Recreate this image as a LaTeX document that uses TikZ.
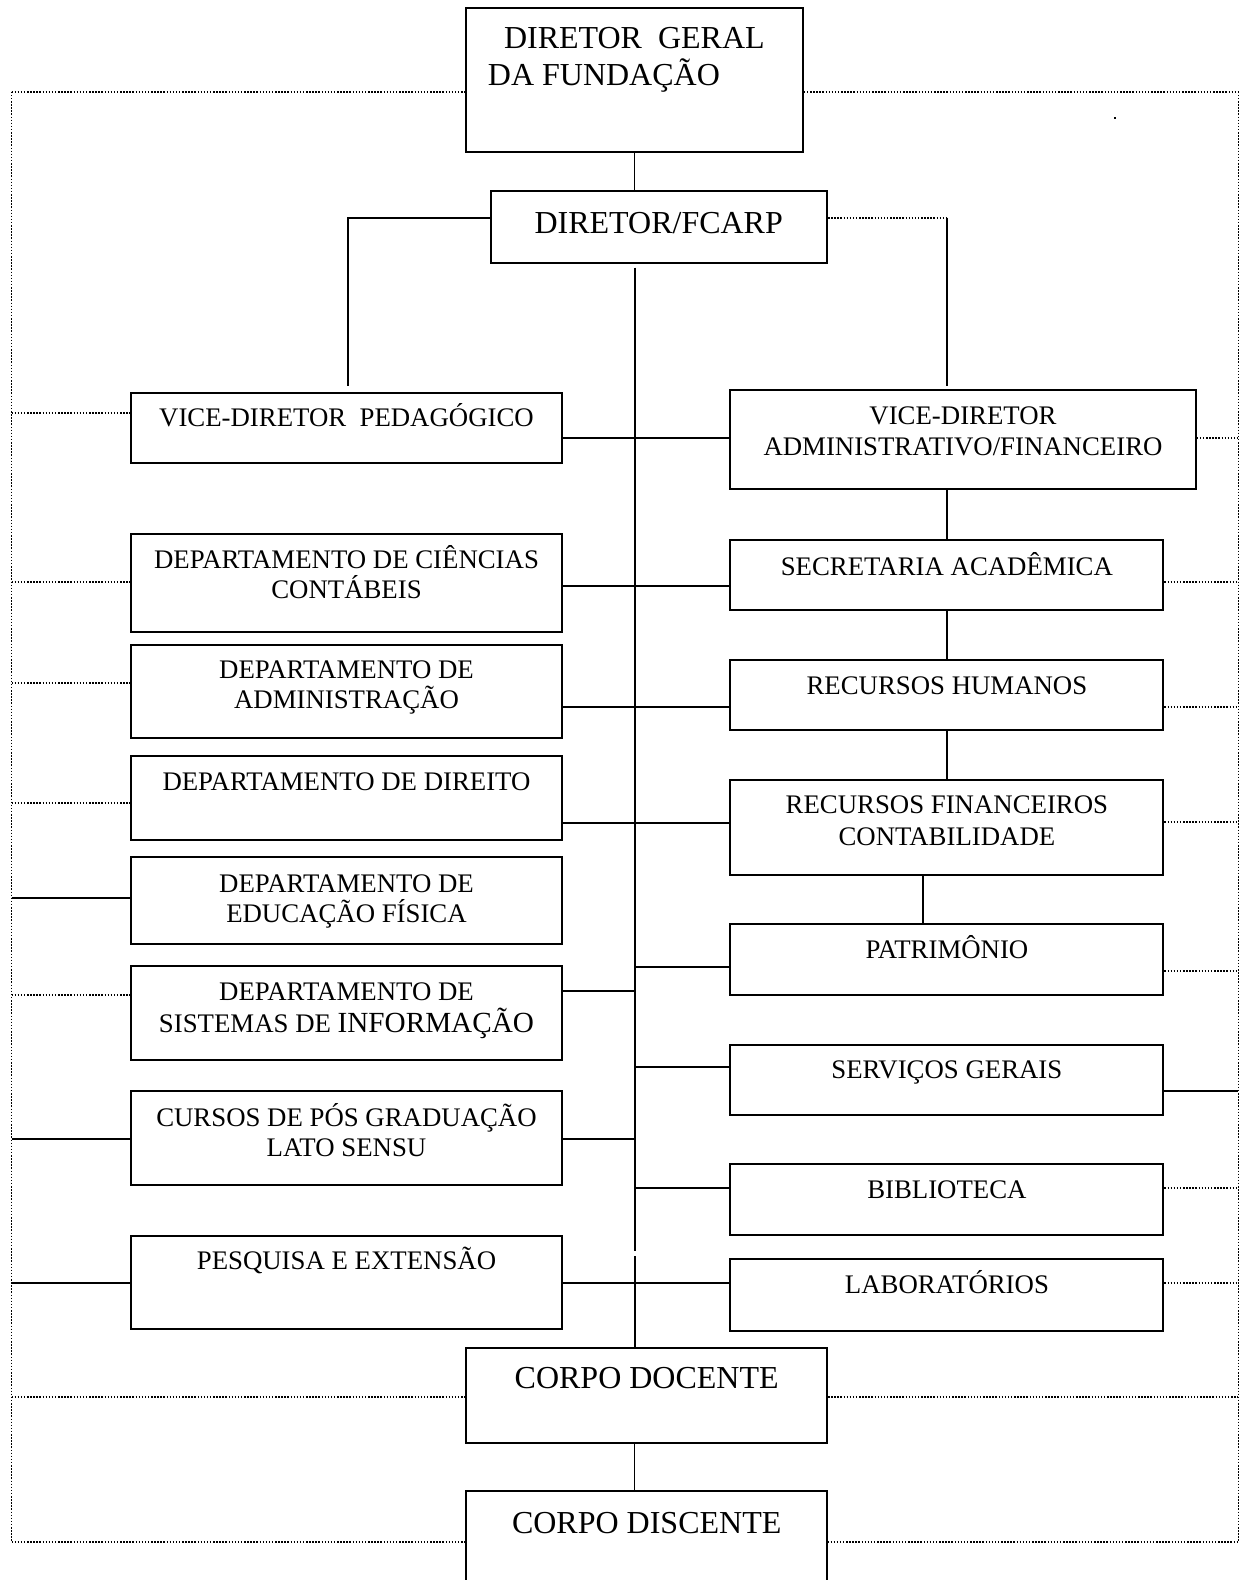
\documentclass[tikz,border=0pt]{standalone}
\usepackage{fontspec}
\setmainfont{Liberation Serif}
\usepackage{graphicx}
\usetikzlibrary{fit}
\begin{document}
\begin{tikzpicture}[x=0.5pt,y=-0.5pt,
  box/.style={draw, line width=1pt, fill=white, inner sep=0pt},
  conn/.style={line width=1pt},
  thinconn/.style={line width=0.6pt},
  dots/.style={line width=0.9pt, dash pattern=on 0.75pt off 0.8pt},
  big/.style={font=\fontsize{16}{19}\selectfont, inner sep=0pt, anchor=base},
  small/.style={font=\fontsize{13.4}{16}\selectfont, inner sep=0pt, anchor=base}]
\useasboundingbox (0,0) rectangle (1246,1580);

% boxes
\node[box, fit={(466.4,8.1) (802.8,152.1)}] (dg) {};
\node[box, fit={(490.5,190.5) (827,263)}] (dir) {};
\node[box, fit={(131,392.5) (562,463.4)}] (vdp) {};
\node[box, fit={(730.3,389.8) (1195.7,488.6)}] (vdaf) {};
\node[box, fit={(131,533.5) (562,631.6)}] (dcc) {};
\node[box, fit={(730.3,540) (1163.4,610.4)}] (sa) {};
\node[box, fit={(131,644.7) (562,738.4)}] (da) {};
\node[box, fit={(730.3,659.8) (1163.4,730.3)}] (rh) {};
\node[box, fit={(131,755.5) (562,840.1)}] (dd) {};
\node[box, fit={(730.3,779.7) (1163.4,875.3)}] (rf) {};
\node[box, fit={(131,857.2) (562,943.8)}] (def) {};
\node[box, fit={(730.3,923.7) (1163.4,995.2)}] (pat) {};
\node[box, fit={(131,966) (562,1059.7)}] (dsi) {};
\node[box, fit={(730.3,1044.6) (1163.4,1115.1)}] (sg) {};
\node[box, fit={(131,1090.9) (562,1184.6)}] (cpg) {};
\node[box, fit={(730.3,1164.4) (1163.4,1235)}] (bib) {};
\node[box, fit={(131,1236) (562,1328.6)}] (pe) {};
\node[box, fit={(730.3,1259.1) (1163.4,1330.6)}] (lab) {};
\node[box, fit={(466.4,1347.8) (827,1443.4)}] (cd) {};
\node[inner sep=0pt, fit={(466.4,1491.8) (827,1582)}] (cdis) {};
\draw[line width=1pt] (cdis.south west) -- (cdis.north west) -- (cdis.north east) -- (cdis.south east);

% texts
\node[big, anchor=base west] (t1a) at (503.6,48.3) {DIRETOR\ \ GERAL};
\node[big, anchor=base west] (t1b) at (487.5,85) {DA FUNDAÇÃO};
\node[big] (t2) at (658.7,233.3) {DIRETOR/FCARP};
\node[small] (t3) at (346.5,426.6) {VICE-DIRETOR\ \ PEDAGÓGICO};
\node[small] (t4a) at (963,424.6) {VICE-DIRETOR};
\node[small] (t4b) at (963,455.8) {ADMINISTRATIVO/FINANCEIRO};
\node[small] (t5a) at (346.5,568.6) {DEPARTAMENTO DE CIÊNCIAS};
\node[small] (t5b) at (346.5,598.9) {CONTÁBEIS};
\node[small] (t6) at (946.9,575.7) {SECRETARIA ACADÊMICA};
\node[small] (t7a) at (346.5,678.5) {DEPARTAMENTO DE};
\node[small] (t7b) at (346.5,708.7) {ADMINISTRAÇÃO};
\node[small] (t8) at (946.9,694.6) {RECURSOS HUMANOS};
\node[small] (t9) at (346.5,790.3) {DEPARTAMENTO DE DIREITO};
\node[small] (t10a) at (946.9,813.4) {RECURSOS FINANCEIROS};
\node[small] (t10b) at (946.9,845.6) {CONTABILIDADE};
\node[small] (t11a) at (346.5,892) {DEPARTAMENTO DE};
\node[small] (t11b) at (346.5,922.2) {EDUCAÇÃO FÍSICA};
\node[small] (t12) at (946.9,958.5) {PATRIMÔNIO};
\node[small] (t13a) at (346.5,1000.8) {DEPARTAMENTO DE};
\node[small] (t13b) at (346.5,1032) {SISTEMAS DE {\fontsize{14.6}{17}\selectfont INFORMAÇÃO}};
\node[small] (t14) at (946.9,1078.4) {SERVIÇOS GERAIS};
\node[small] (t15a) at (346.5,1126.7) {CURSOS DE PÓS GRADUAÇÃO};
\node[small] (t15b) at (346.5,1156.9) {LATO SENSU};
\node[small] (t16) at (946.9,1198.2) {BIBLIOTECA};
\node[small] (t17) at (346.5,1269.7) {PESQUISA E EXTENSÃO};
\node[small] (t18) at (946.9,1293.9) {LABORATÓRIOS};
\node[big] (t19) at (646.7,1388.6) {CORPO DOCENTE};
\node[big] (t20) at (646.7,1533.6) {CORPO DISCENTE};

% frame coordinates
\coordinate (fl) at (11.5,91.7);
\coordinate (fr) at (1238.4,91.7);
\coordinate (flb) at (11.5,1542.2);
\coordinate (frb) at (1238.4,1542.2);

% dotted frame
\draw[dots] (fl) -- (dg.west |- fl);
\draw[dots] (dg.east |- fr) -- (fr);
\draw[dots] (fl) -- (flb);
\draw[dots] (fr) -- (frb);
\draw[dots] (flb) -- (cdis.west |- flb);
\draw[dots] (cdis.east |- frb) -- (frb);
\draw[dots] (fl |- 0,1397.1) -- (cd.west |- 0,1397.1);
\draw[dots] (cd.east |- 0,1397.1) -- (fr |- 0,1397.1);

% top
\draw[thinconn] (dg.south -| 634.6,0) -- (634.6,0 |- dir.north);
\coordinate (lt) at (347.5,217.6);
\coordinate (lb) at (347.5,386);
\draw[conn] (dir.west |- lt) -- (lt) -- (lb);
\coordinate (rt) at (946.9,217.6);
\coordinate (rb) at (946.9,386);
\draw[dots] (dir.east |- rt) -- (rt);
\draw[conn] (rt) -- (rb);

% central spine
\coordinate (ctop) at (634.6,267.5);
\coordinate (cg1) at (634.6,1251);
\coordinate (cg2) at (634.6,1256);
\draw[conn] (ctop) -- (cg1);
\draw[conn] (cg2) -- (cg2 |- cd.north);
\draw[thinconn] (cd.south -| 634.6,0) -- (634.6,0 |- cdis.north);

% right chain
\draw[conn] (vdaf.south -| rt) -- (sa.north -| rt);
\draw[conn] (sa.south -| rt) -- (rh.north -| rt);
\draw[conn] (rh.south -| rt) -- (rf.north -| rt);
\draw[conn] (rf.south -| 922.7,0) -- (pat.north -| 922.7,0);

% horizontal links
\draw[conn] (vdp.east |- 0,438.2) -- (vdaf.west |- 0,438.2);
\draw[conn] (dcc.east |- 0,586.2) -- (sa.west |- 0,586.2);
\draw[conn] (da.east |- 0,707.1) -- (rh.west |- 0,707.1);
\draw[conn] (dd.east |- 0,822.5) -- (rf.west |- 0,822.5);
\draw[conn] (ctop |- 0,967) -- (pat.west |- 0,967);
\draw[conn] (dsi.east |- 0,991) -- (ctop |- 0,991);
\draw[conn] (ctop |- 0,1066.7) -- (sg.west |- 0,1066.7);
\draw[conn] (cpg.east |- 0,1139.3) -- (ctop |- 0,1139.3);
\draw[conn] (ctop |- 0,1187.6) -- (bib.west |- 0,1187.6);
\draw[conn] (pe.east |- 0,1283.3) -- (lab.west |- 0,1283.3);

% left branches to frame
\draw[dots] (fl |- 0,413) -- (vdp.west |- 0,413);
\draw[dots] (fl |- 0,581.7) -- (dcc.west |- 0,581.7);
\draw[dots] (fl |- 0,683) -- (da.west |- 0,683);
\draw[dots] (fl |- 0,802.8) -- (dd.west |- 0,802.8);
\draw[conn] (fl |- 0,897.5) -- (def.west |- 0,897.5);
\draw[dots] (fl |- 0,995.2) -- (dsi.west |- 0,995.2);
\draw[conn] (fl |- 0,1139.3) -- (cpg.west |- 0,1139.3);
\draw[conn] (fl |- 0,1283.3) -- (pe.west |- 0,1283.3);

% right branches to frame
\draw[dots] (vdaf.east |- 0,438.2) -- (fr |- 0,438.2);
\draw[dots] (sa.east |- 0,581.7) -- (fr |- 0,581.7);
\draw[dots] (rh.east |- 0,707.1) -- (fr |- 0,707.1);
\draw[dots] (rf.east |- 0,822) -- (fr |- 0,822);
\draw[dots] (pat.east |- 0,971) -- (fr |- 0,971);
\draw[conn] (sg.east |- 0,1090.9) -- (fr |- 0,1090.9);
\draw[dots] (bib.east |- 0,1187.6) -- (fr |- 0,1187.6);
\draw[dots] (lab.east |- 0,1283.3) -- (fr |- 0,1283.3);

% stray speck
\fill (1114,117) rectangle (1116,119);
\end{tikzpicture}
\end{document}
